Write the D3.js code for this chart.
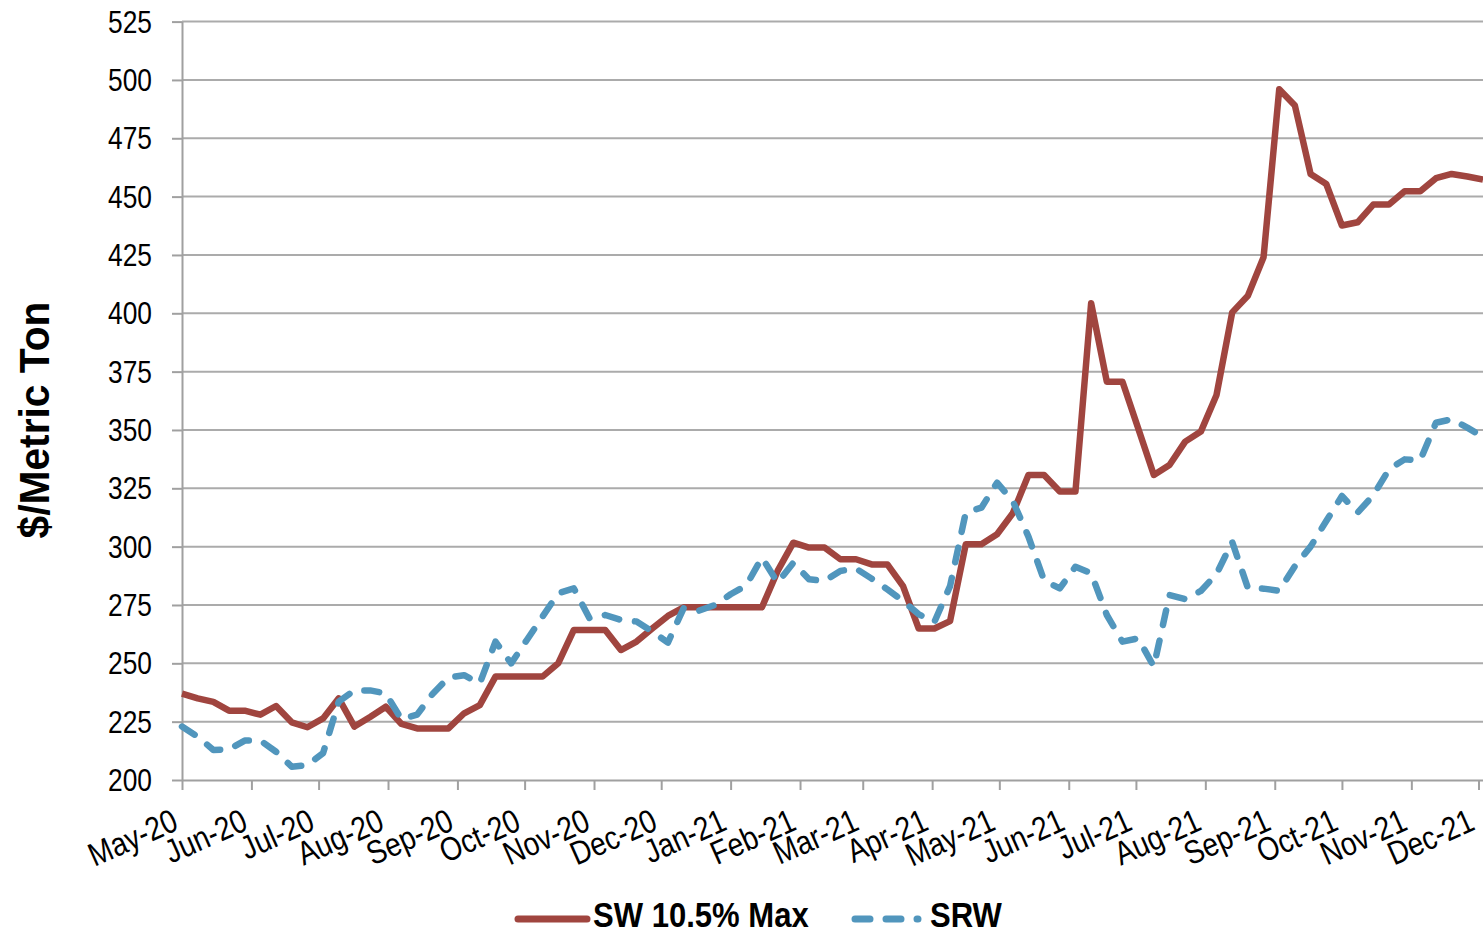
<!DOCTYPE html>
<html>
<head>
<meta charset="utf-8">
<script src="https://cdn.jsdelivr.net/npm/d3@7"></script>
<style>
  html, body { margin: 0; padding: 0; background: #ffffff; }
  svg { display: block; }
  text { font-family: "Liberation Sans", Arial, Helvetica, sans-serif; fill: #000; }
</style>
</head>
<body>
<svg id="chart" width="1483" height="934"></svg>
<script>
// Weekly wheat export prices, $/metric ton
const seriesNames = ["SW 10.5% Max", "SRW"];
const firstWeek = new Date(2020, 4, 1);
const weekCount = 84;

const swMax = [237, 235, 233.5, 229.7, 229.7, 228, 231.7, 224.7, 222.6, 226.4,
  235, 222.9, 227, 231.4, 224, 222.1, 222.1, 222.1, 228.6, 232.1,
  244.3, 244.3, 244.3, 244.3, 250, 264.3, 264.3, 264.3, 255.7, 259.3,
  264.9, 270.3, 274, 274, 274, 274, 274, 274, 289.6, 301.7,
  299.6, 299.6, 294.6, 294.6, 292.4, 292.4, 283.1, 264.9, 264.9, 268.1,
  301, 301, 305.3, 314.3, 330.7, 330.7, 323.6, 323.6, 404.3, 370.7,
  370.7, 350.7, 330.7, 335, 345, 349.3, 365, 400.4, 407.5, 424,
  496, 489, 459.7, 455.4, 437.6, 439, 446.6, 446.6, 452.3, 452.3,
  457.9, 459.7, 458.6, 457.3];

const srw = [222.9, 218.6, 212.9, 213.1, 216.9, 216.9, 212.1, 205.7, 206.4, 211.5,
  233.6, 238.4, 238.4, 237.1, 226, 228, 237, 243.9, 244.9, 241.4,
  259.3, 250, 260, 270, 280, 282.1, 269.3, 270.7, 268.6, 267.9,
  263.6, 258.9, 273.6, 272.6, 275, 279.6, 283.4, 295.3, 284.6, 293.1,
  286, 285.3, 289.6, 290.6, 286.3, 281.7, 276.7, 271, 267.7, 283.1,
  314.6, 316.7, 327.4, 319.6, 304.3, 285.5, 282.1, 291.4, 288.6, 270.7,
  259.3, 260.7, 248.6, 279.3, 277.5, 281, 288.3, 302, 282.3, 282,
  281.1, 291.7, 300, 311, 321.7, 314.6, 322, 333.1, 337.4, 337.1,
  353.1, 354.6, 351, 347];

const yTicks = [200, 225, 250, 275, 300, 325, 350, 375, 400, 425, 450, 475, 500, 525];
const monthLabels = ["May-20", "Jun-20", "Jul-20", "Aug-20", "Sep-20", "Oct-20", "Nov-20",
  "Dec-20", "Jan-21", "Feb-21", "Mar-21", "Apr-21", "May-21", "Jun-21", "Jul-21",
  "Aug-21", "Sep-21", "Oct-21", "Nov-21", "Dec-21"];

const weeks = d3.range(weekCount).map(i => d3.timeDay.offset(firstWeek, 7 * i));
const monthTicks = d3.timeMonth.range(new Date(2020, 4, 1), new Date(2021, 11, 2));

// layout
const plot = { left: 182, right: 1483, top: 21.6, bottom: 780 };
const gridColor = "#ababab";
const axisColor = "#a0a0a0";
const red = "#a0453f";
const blue = "#5196bd";

const svg = d3.select("#chart");

const x = d3.scaleTime()
  .domain([weeks[0], weeks[weeks.length - 1]])
  .range([plot.left, plot.right]);
const y = d3.scaleLinear()
  .domain([200, 525])
  .range([plot.bottom, plot.top]);

// horizontal gridlines
svg.append("g")
  .selectAll("line")
  .data(yTicks.filter(v => v > 200))
  .join("line")
  .attr("x1", plot.left).attr("x2", plot.right)
  .attr("y1", d => y(d)).attr("y2", d => y(d))
  .attr("stroke", gridColor).attr("stroke-width", 2);

// y axis (ticks + line), labels drawn separately
const yAxis = svg.append("g")
  .attr("transform", `translate(${plot.left},0)`)
  .call(d3.axisLeft(y).tickValues(yTicks).tickSize(10).tickSizeOuter(0).tickFormat(""));
yAxis.select(".domain").attr("stroke", axisColor).attr("stroke-width", 2);
yAxis.selectAll(".tick line").attr("stroke", axisColor).attr("stroke-width", 2);

svg.append("g")
  .selectAll("text")
  .data(yTicks)
  .join("text")
  .attr("transform", d => `translate(152,${y(d)}) scale(0.85,1)`)
  .attr("dy", "0.36em")
  .attr("text-anchor", "end")
  .style("font-size", "31px")
  .text(d => d);

// x axis
const xAxis = svg.append("g")
  .attr("transform", `translate(0,${plot.bottom})`)
  .call(d3.axisBottom(x).tickValues(monthTicks).tickSize(10).tickSizeOuter(0).tickFormat(""));
xAxis.select(".domain").attr("stroke", axisColor).attr("stroke-width", 2);
xAxis.selectAll(".tick line").attr("stroke", axisColor).attr("stroke-width", 2);

// month labels: condensed along the text direction, slanted
svg.append("g")
  .selectAll("text")
  .data(monthTicks)
  .join("text")
  .attr("transform", d => `translate(${x(d) - 2},829) rotate(-24) scale(0.85,1)`)
  .attr("text-anchor", "end")
  .style("font-size", "33px")
  .text((d, i) => monthLabels[i]);

// y axis title
svg.append("text")
  .attr("transform", "translate(49,420) rotate(-90) scale(0.97,1)")
  .attr("text-anchor", "middle")
  .style("font-size", "42px")
  .style("font-weight", "bold")
  .text("$/Metric Ton");

// series lines
const line = d3.line()
  .x((d, i) => x(weeks[i]))
  .y(d => y(d));

svg.append("path")
  .datum(swMax)
  .attr("d", line)
  .attr("fill", "none")
  .attr("stroke", red)
  .attr("stroke-width", 6.5)
  .attr("stroke-linejoin", "round");

svg.append("path")
  .datum(srw)
  .attr("d", line)
  .attr("fill", "none")
  .attr("stroke", blue)
  .attr("stroke-width", 6.5)
  .attr("stroke-linecap", "round")
  .attr("stroke-linejoin", "round")
  .attr("stroke-dasharray", "15 16");

// legend
const legend = svg.append("g");
legend.append("line")
  .attr("x1", 518).attr("x2", 587).attr("y1", 919).attr("y2", 919)
  .attr("stroke", red).attr("stroke-width", 7).attr("stroke-linecap", "round");
legend.append("text")
  .attr("transform", "translate(593,927) scale(0.9,1)")
  .style("font-size", "34.5px").style("font-weight", "bold")
  .text(seriesNames[0]);
legend.append("line")
  .attr("x1", 855).attr("x2", 918).attr("y1", 919).attr("y2", 919)
  .attr("stroke", blue).attr("stroke-width", 7).attr("stroke-linecap", "round")
  .attr("stroke-dasharray", "15 16");
legend.append("text")
  .attr("transform", "translate(930,927) scale(0.9,1)")
  .style("font-size", "34.5px").style("font-weight", "bold")
  .text(seriesNames[1]);
</script>
</body>
</html>
